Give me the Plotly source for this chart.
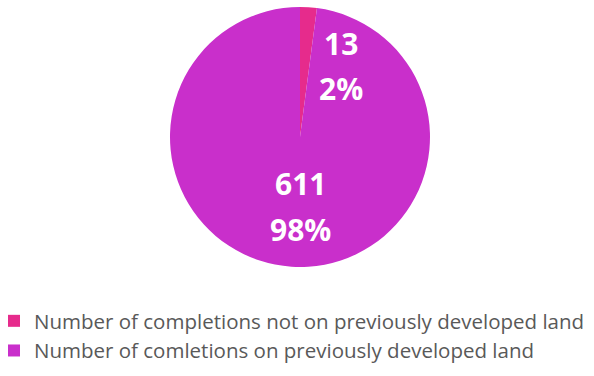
import plotly.graph_objects as go

# Completions split by previously developed land
categories = [
    "Number of completions not on previously developed land",
    "Number of comletions on previously developed land",
]
counts = [13, 611]
colors = ["#E62B8C", "#C92FCB"]

total = sum(counts)
shares = [c / total for c in counts]

fig = go.Figure(
    go.Pie(
        labels=categories,
        values=counts,
        sort=False,
        direction="clockwise",
        rotation=0,
        textinfo="none",
        hoverinfo="label+value+percent",
        marker=dict(colors=colors, line=dict(width=0)),
        domain=dict(x=[6 / 594, 1], y=[109 / 376, 369 / 376]),
    )
)

# value / percentage labels placed over the slices
label_pos = [(341, 43.5, 89), (300, 184, 229)]
for (cx, y1, y2), c, s in zip(label_pos, counts, shares):
    for txt, yy in ((f"{c}", y1), (f"{round(s * 100)}%", y2)):
        fig.add_annotation(
            x=cx / 594, y=1 - yy / 376, xref="paper", yref="paper",
            text=f"<b>{txt}</b>", showarrow=False,
            xanchor="center", yanchor="middle",
            font=dict(family="Open Sans", size=30, color="white"),
        )

fig.update_layout(
    width=594, height=376,
    margin=dict(l=0, r=0, t=0, b=0, autoexpand=False),
    paper_bgcolor="white",
    plot_bgcolor="white",
    showlegend=True,
    legend=dict(
        x=-6 / 594, y=1 - 301 / 376, xanchor="left", yanchor="top",
        font=dict(family="Open Sans", size=20.5, color="#595959"),
        bgcolor="rgba(0,0,0,0)",
        traceorder="normal",
    ),
)

fig.write_html("out.html")
